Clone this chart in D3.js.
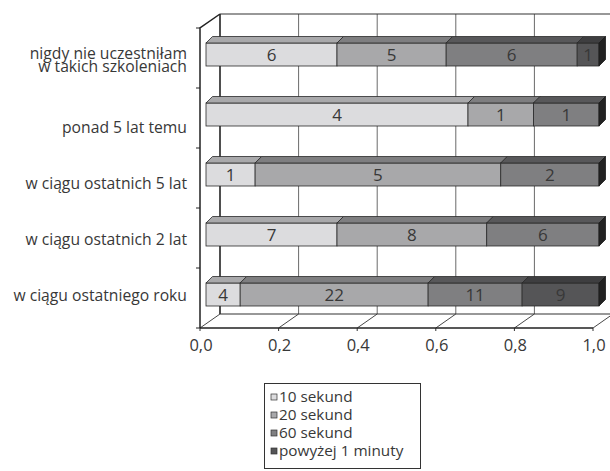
<!DOCTYPE html>
<html>
<head>
<meta charset="utf-8">
<script src="https://cdn.jsdelivr.net/npm/d3@7"></script>
<style>
  body { margin: 0; background: #fff; }
  text { font-family: "Open Sans", "Noto Sans", sans-serif; fill: #383838; }
</style>
</head>
<body>
<div class="chart"></div>
<script>
// dane z wykresu
let categories = ["nigdy nie uczestniłam\nw takich szkoleniach", "ponad 5 lat temu", "w ciągu ostatnich 5 lat", "w ciągu ostatnich 2 lat", "w ciągu ostatniego roku"]
let seriesNames = ["10 sekund", "20 sekund", "60 sekund", "powyżej 1 minuty"]
let s10 = [6, 4, 1, 7, 4]
let s20 = [5, 1, 5, 8, 22]
let s60 = [6, 1, 2, 6, 11]
let sOver = [1, 0, 0, 0, 9]
let xTicks = [0, 0.2, 0.4, 0.6, 0.8, 1.0]
let seriesColor = ["#dcdcde", "#a8a8aa", "#7f7f81", "#555557"],
    topColor = ["#a9a9ab", "#7e7e80", "#58585a", "#3e3e40"]

let width = 610, height = 471
let svg = d3.select(".chart")
    .append("svg")
    .attr("width", width)
    .attr("height", height)

let rows = categories.map((c, i) => ({ cat: c, "10 sekund": s10[i], "20 sekund": s20[i], "60 sekund": s60[i], "powyżej 1 minuty": sOver[i] }))
let stacked = d3.stack().keys(seriesNames).offset(d3.stackOffsetExpand)(rows)

//skale (płaszczyzna przednia)
let x = d3.scaleLinear().domain([0, 1]).range([200, 593])
let y = d3.scaleBand().domain(categories).range([28, 328])
let labelY = d3.scalePoint().domain(categories).range([77.5, 300.7])
let wallDx = 20, wallDy = 14
let barDx = 6, barShift = 3.5, barH = 23, depthX = 6.5, depthY = 6.5

let grid = svg.append("g")
//tylna ściana
grid.selectAll("line.back")
    .data(xTicks)
    .enter()
    .append("line")
    .attr("x1", d => x(d) + wallDx).attr("x2", d => x(d) + wallDx)
    .attr("y1", y.range()[0] - wallDy).attr("y2", y.range()[1] - wallDy)
    .attr("stroke", (d, i) => i == 0 ? "#222" : "#6a6a6a")
    .attr("stroke-width", (d, i) => i == 0 ? 1.6 : 1)
grid.append("path")
    .attr("fill", "none").attr("stroke", "#333").attr("stroke-width", 1.2)
    .attr("d", `M${x(0) + wallDx},${y.range()[0] - wallDy} H${x(1) + wallDx} M${x(0) + wallDx},${y.range()[1] - wallDy} H${x(1) + wallDx}`)
//podłoga
grid.selectAll("line.floor")
    .data(xTicks)
    .enter()
    .append("line")
    .attr("x1", d => x(d)).attr("x2", d => x(d) + wallDx)
    .attr("y1", y.range()[1]).attr("y2", y.range()[1] - wallDy)
    .attr("stroke", "#333").attr("stroke-width", 0.9)
grid.selectAll("line.xtick")
    .data(xTicks)
    .enter()
    .append("line")
    .attr("x1", d => x(d)).attr("x2", d => x(d))
    .attr("y1", y.range()[1]).attr("y2", y.range()[1] + 3)
    .attr("stroke", "#333")
grid.append("path")
    .attr("fill", "none").attr("stroke", "#222").attr("stroke-width", 1.5)
    .attr("d", `M${x(0)},${y.range()[1]} H${x(1)} M${x(0)},${y.range()[1]} V${y.range()[0]} L${x(0) + wallDx},${y.range()[0] - wallDy}`)
//znaczniki osi kategorii
let bounds = categories.map(c => y(c)).concat([y.range()[1]])
grid.selectAll("line.ytick")
    .data(bounds)
    .enter()
    .append("line")
    .attr("x1", x(0) - 4).attr("x2", x(0))
    .attr("y1", d => d).attr("y2", d => d)
    .attr("stroke", "#222")

//słupki 3D
let bars = svg.append("g")
stacked.forEach((layer, si) => {
    let g = bars.append("g")
    layer.forEach((d, ci) => {
        if (d[1] - d[0] <= 0) return
        let x0 = x(d[0]) + barDx, x1 = x(d[1]) + barDx
        let yTop = y(categories[ci]) + y.bandwidth() / 2 - barH / 2 - barShift
        g.append("rect")
            .attr("x", x0).attr("y", yTop)
            .attr("width", x1 - x0).attr("height", barH)
            .attr("fill", seriesColor[si])
            .attr("stroke", "#2a2a2a").attr("stroke-width", 0.8)
        g.append("path")
            .attr("d", `M${x0},${yTop} L${x0 + depthX},${yTop - depthY} H${x1 + depthX} L${x1},${yTop} Z`)
            .attr("fill", topColor[si])
            .attr("stroke", "#2a2a2a").attr("stroke-width", 0.8)
        //boczna ściana tylko dla ostatniego segmentu
        if (d[1] >= 0.9999) {
            g.append("path")
                .attr("d", `M${x1},${yTop} L${x1 + depthX},${yTop - depthY} V${yTop - depthY + barH} L${x1},${yTop + barH} Z`)
                .attr("fill", "#222")
                .attr("stroke", "#1a1a1a").attr("stroke-width", 0.8)
        }
        g.append("text")
            .attr("x", (x0 + x1) / 2)
            .attr("y", yTop + barH / 2)
            .attr("dy", "0.36em")
            .attr("text-anchor", "middle")
            .attr("font-size", 17)
            .text(d.data[seriesNames[si]])
    })
})

//etykiety kategorii
let catText = svg.append("g")
    .selectAll("text")
    .data(categories)
    .enter()
    .append("text")
    .attr("text-anchor", "end")
    .attr("font-size", 15.7)
    .attr("x", 187)
    .attr("y", d => labelY(d))
catText.each(function (d) {
    let lines = d.split("\n")
    let t = d3.select(this)
    lines.forEach((l, i) => {
        t.append("tspan")
            .attr("x", 187)
            .attr("y", labelY(d) - (lines.length > 1 ? 5.5 : 0) - (lines.length - 1 - i) * 12.8)
            .text(l)
    })
})

//etykiety osi X
svg.append("g")
    .selectAll("text")
    .data(xTicks)
    .enter()
    .append("text")
    .attr("x", d => x(d) + 1)
    .attr("y", 351)
    .attr("text-anchor", "middle")
    .attr("font-size", 16.5)
    .text(d => d3.format(".1f")(d).replace(".", ","))

//legenda
let legend = svg.append("g")
legend.append("rect")
    .attr("x", 264.5).attr("y", 383.5)
    .attr("width", 156).attr("height", 85)
    .attr("fill", "#fff").attr("stroke", "#333")
legend.selectAll("rect.key")
    .data(seriesNames)
    .enter()
    .append("rect")
    .attr("x", 271).attr("y", (d, i) => 394 + i * 18)
    .attr("width", 6).attr("height", 6)
    .attr("fill", (d, i) => seriesColor[i])
    .attr("stroke", "#333").attr("stroke-width", 0.7)
legend.selectAll("text")
    .data(seriesNames)
    .enter()
    .append("text")
    .attr("x", 279)
    .attr("y", (d, i) => 402 + i * 18)
    .attr("font-size", 15.3)
    .text(d => d)
</script>
</body>
</html>
